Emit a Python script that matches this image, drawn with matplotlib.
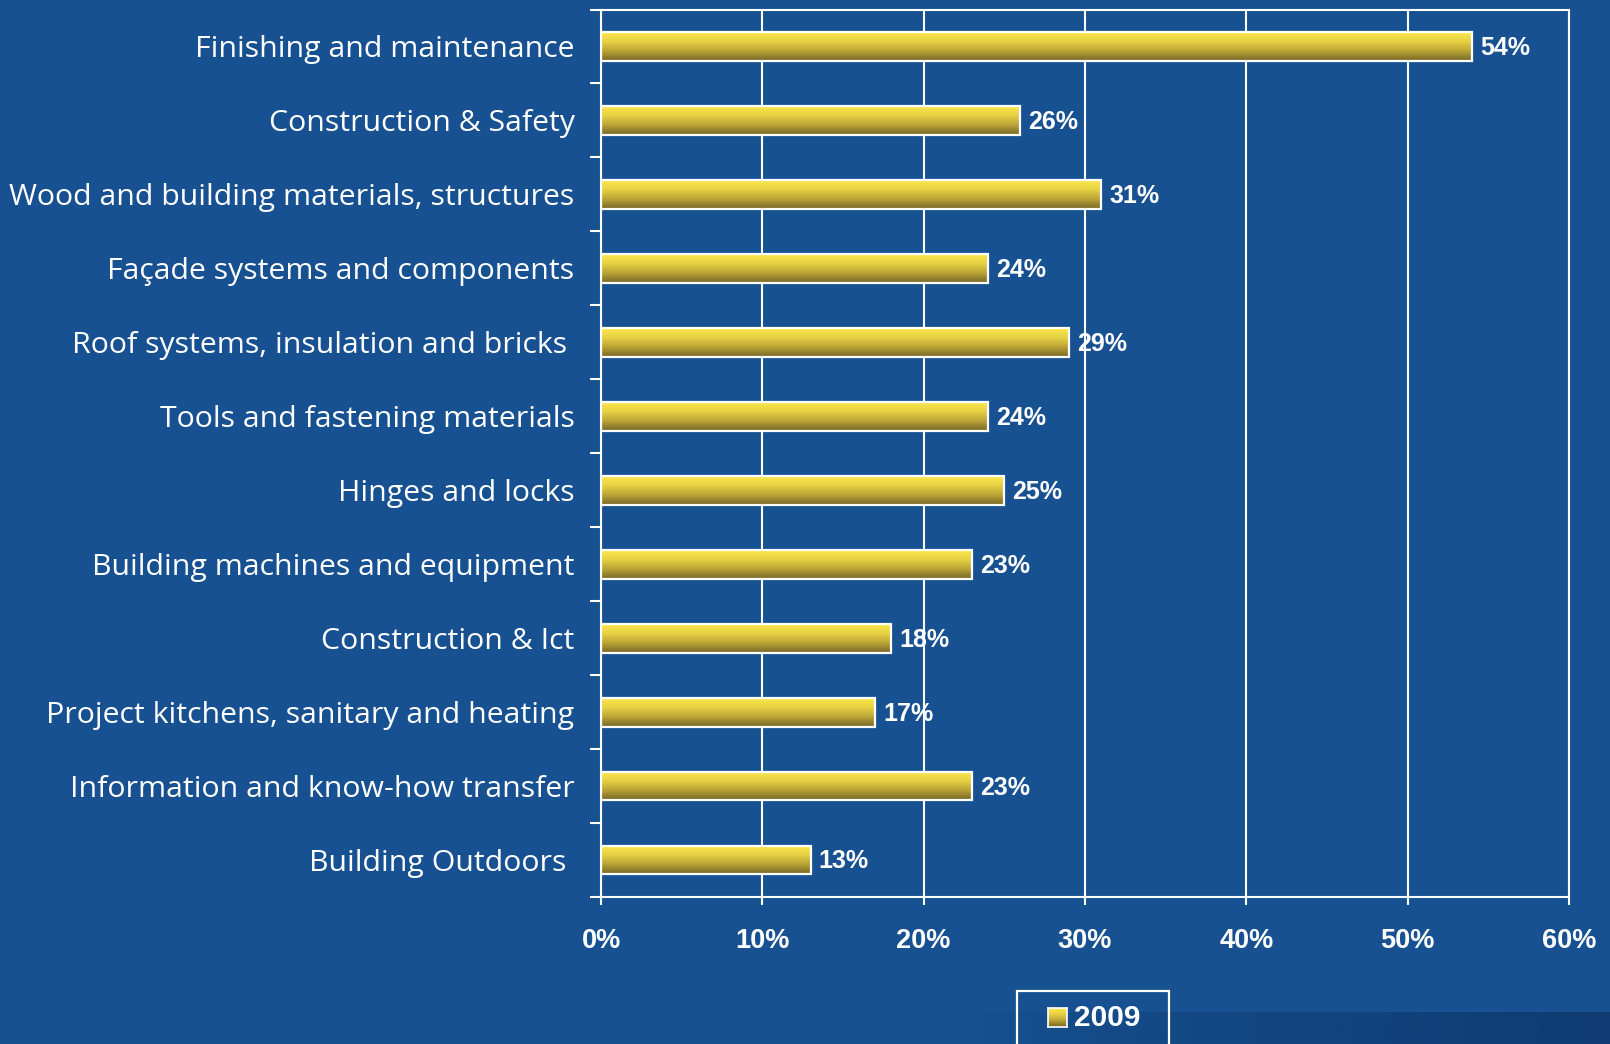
import numpy as np
import matplotlib
matplotlib.use("Agg")
import matplotlib.pyplot as plt
from matplotlib.colors import LinearSegmentedColormap
from matplotlib.patches import Rectangle

categories = [
    "Finishing and maintenance",
    "Construction & Safety",
    "Wood and building materials, structures",
    "Façade systems and components",
    "Roof systems, insulation and bricks ",
    "Tools and fastening materials",
    "Hinges and locks",
    "Building machines and equipment",
    "Construction & Ict",
    "Project kitchens, sanitary and heating",
    "Information and know-how transfer",
    "Building Outdoors ",
]
values = [54, 26, 31, 24, 29, 24, 25, 23, 18, 17, 23, 13]
xticks = [0, 10, 20, 30, 40, 50, 60]
series_name = "2009"

bg = "#175192"
bar_cmap = LinearSegmentedColormap.from_list("bar", ["#776626", "#b8a236", "#e6d044", "#fbe84d"])
grad = np.linspace(1, 0, 64).reshape(-1, 1)

fig = plt.figure(figsize=(16.1, 10.44), dpi=100, facecolor=bg)

# darker strip in the bottom right corner
strip = fig.add_axes([0.6, 0.0, 0.4, 32 / 1044])
strip.axis("off")
ramp = np.zeros((1, 256, 4))
ramp[..., :3] = np.array([14, 60, 114]) / 255
ramp[..., 3] = np.linspace(0, 1, 256) ** 0.8
strip.imshow(ramp, aspect="auto", extent=[0, 1, 0, 1])

ax = fig.add_axes([601 / 1610, 1 - 897 / 1044, 968 / 1610, 887.5 / 1044])
ax.set_facecolor(bg)

n = len(categories)
ypos = np.arange(n)[::-1]
h = 0.39
for y, v in zip(ypos, values):
    ax.imshow(grad, cmap=bar_cmap, aspect="auto", extent=[0, v, y - h / 2, y + h / 2],
              origin="upper", zorder=2, interpolation="bilinear")
    ax.add_patch(Rectangle((0, y - h / 2), v, h, fill=False, edgecolor="white", lw=1.6, zorder=3))
    ax.text(v + 0.5, y - 0.02, f"{v}%", color="white", fontsize=18, fontweight="bold",
            family="Liberation Sans", va="center", ha="left", zorder=4)

ax.set_xlim(0, 60)
ax.set_ylim(-0.5, n - 0.5)
ax.set_xticks(xticks)
ax.set_xticklabels([f"{t}%" for t in xticks], color="white", fontsize=19.5,
                   fontweight="bold", family="Liberation Sans")
ax.set_yticks(ypos)
ax.set_yticklabels(categories, color="white", fontsize=21.8, family="Open Sans")
ax.set_yticks(np.arange(n + 1) - 0.5, minor=True)
ax.tick_params(axis="y", which="major", length=0, pad=19)
ax.tick_params(axis="y", which="minor", length=8, width=1.5, color="white", direction="out")
ax.tick_params(axis="x", which="major", length=6, width=1.5, color="white", direction="out", pad=16)
ax.grid(axis="x", color="white", lw=1.5, zorder=1)
ax.set_axisbelow(True)
for s in ax.spines.values():
    s.set_color("white")
    s.set_linewidth(1.5)

# legend box (partly cut off at the bottom)
fig.patches.append(Rectangle((1017 / 1610, -0.02), 152 / 1610, (1044 - 991) / 1044 + 0.02,
                             transform=fig.transFigure, fill=False, edgecolor="white", lw=1.6, zorder=5))
sw = fig.add_axes([1048 / 1610, 1 - 1027 / 1044, 19 / 1610, 19 / 1044])
sw.imshow(grad, cmap=bar_cmap, aspect="auto", extent=[0, 1, 0, 1], interpolation="bilinear")
sw.set_xticks([])
sw.set_yticks([])
for s in sw.spines.values():
    s.set_color("white")
    s.set_linewidth(1.2)
fig.text(1074 / 1610, 1 - 1018 / 1044, series_name, color="white", fontsize=21.5,
         fontweight="bold", family="Liberation Sans", va="center", ha="left")

fig.savefig("out.png", dpi=100, facecolor=bg)
